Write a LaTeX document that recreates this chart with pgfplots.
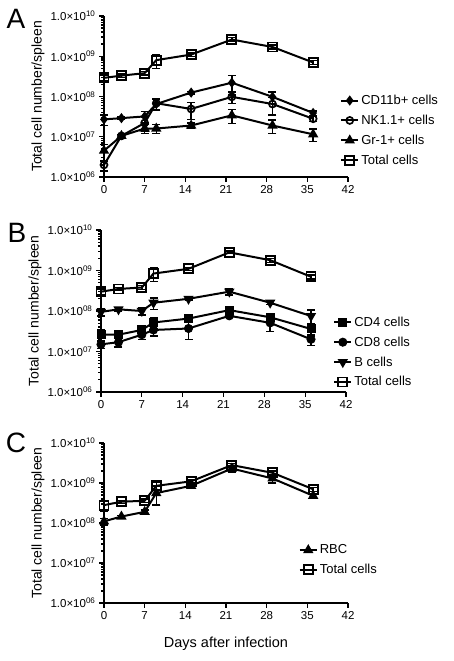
\documentclass[border=0pt]{standalone}
\usepackage{fontspec}
\setmainfont{Liberation Sans}
\usepackage{pgfplots}
\usepackage{pgfplotstable}
\pgfplotsset{compat=1.18}

% Panel A  (y = cells/spleen, e = SEM)
\pgfplotstableread{
x y e
0 2.9e8 5e7
3 3.3e8 3e7
7 3.8e8 4e7
9 8.0e8 3e8
15 1.1e9 1e8
22 2.6e9 3e8
29 1.7e9 2e8
36 7.0e8 8e7
}\totA
\pgfplotstableread{
x y e
0 2.7e7 8e6
3 2.9e7 2e6
7 3.2e7 1e7
9 6.5e7 2e7
15 1.25e8 1e7
22 2.2e8 1.1e8
29 9.8e7 3e7
36 3.9e7 5e6
}\cdA
\pgfplotstableread{
x y e
0 2.0e6 6e5
3 1.05e7 1e6
7 2.2e7 8e6
9 6.8e7 2e7
15 4.9e7 2.2e7
22 9.8e7 3e7
29 6.5e7 3e7
36 2.8e7 4e6
}\nkA
\pgfplotstableread{
x y e
0 4.5e6 2e6
3 1.05e7 1e6
7 1.6e7 4e6
9 1.6e7 4e6
15 1.9e7 3e6
22 3.4e7 1.3e7
29 1.9e7 7e6
36 1.15e7 4e6
}\grA
% Panel B
\pgfplotstableread{
x y e
0 3.0e8 5e7
3 3.5e8 3e7
7 3.8e8 4e7
9 8.4e8 3e8
15 1.1e9 1e8
22 2.8e9 2e8
29 1.8e9 2e8
36 7.0e8 8e7
}\totB
\pgfplotstableread{
x y e
0 2.6e7 8e6
3 2.6e7 5e6
7 3.4e7 8e6
9 5.2e7 1.5e7
15 6.5e7 1e7
22 1.05e8 1.5e7
29 7.0e7 1.2e7
36 3.6e7 1.2e7
}\cdfB
\pgfplotstableread{
x y e
0 1.5e7 3e6
3 1.7e7 4e6
7 2.6e7 6e6
9 3.4e7 1e7
15 3.7e7 1.7e7
22 7.6e7 8e6
29 5.1e7 2e7
36 2.0e7 6e6
}\cdeB
\pgfplotstableread{
x y e
0 9.5e7 2e7
3 1.1e8 1e7
7 1.0e8 2e7
9 1.6e8 5e7
15 2.0e8 1.5e7
22 3.0e8 5e7
29 1.6e8 1.5e7
36 7.5e7 3e7
}\bB
% Panel C
\pgfplotstableread{
x y e
0 2.8e8 8e7
3 3.4e8 3e7
7 3.6e8 4e7
9 8.5e8 2e8
15 1.1e9 1e8
22 2.8e9 3e8
29 1.8e9 2e8
36 7.0e8 8e7
}\totC
\pgfplotstableread{
x y e
0 1.1e8 2e7
3 1.45e8 1e7
7 1.9e8 2e7
9 5.6e8 2.8e8
15 8.5e8 1e8
22 2.3e9 4e8
29 1.3e9 3e8
36 4.8e8 5e7
}\rbcC

\pgfplotsset{
 every axis/.append style={
  scale only axis, anchor=south west,
  xmin=0, xmax=42, ymin=6, ymax=10,
  axis lines=left, axis line style={line width=1.9pt,-},
  xtick={0,7,...,42}, ytick={6,7,8,9,10},
  minor ytick={6.30103,6.47712,6.60206,6.69897,6.77815,6.84510,6.90309,6.95424,
               7.30103,7.47712,7.60206,7.69897,7.77815,7.84510,7.90309,7.95424,
               8.30103,8.47712,8.60206,8.69897,8.77815,8.84510,8.90309,8.95424,
               9.30103,9.47712,9.60206,9.69897,9.77815,9.84510,9.90309,9.95424},
  yticklabels={1.0×10\textsuperscript{06},1.0×10\textsuperscript{07},1.0×10\textsuperscript{08},1.0×10\textsuperscript{09},1.0×10\textsuperscript{10}},
  /pgf/number format/assume math mode=true,
  tick align=outside, major tick length=5pt, minor tick length=3pt,
  every tick/.style={black, line width=1.3pt},
  tick label style={font=\fontsize{11.5}{11.5}\selectfont},
  ylabel={Total cell number/spleen},
  ylabel style={font=\fontsize{14}{14}\selectfont, yshift=-1pt},
  legend style={draw=none, fill=none, font=\fontsize{13}{13}\selectfont, row sep=5pt, anchor=north west},
  legend cell align=left,
  clip=false,
 },
 myser/.style={black, line width=2pt,
   /pgfplots/error bars/y dir=both, /pgfplots/error bars/y explicit,
   /pgfplots/error bars/error bar style={line width=1.4pt, black},
   /pgfplots/error bars/error mark options={black, line width=1.4pt, mark size=4pt, rotate=90}},
 mytot/.style={myser, mark=square, mark size=4.5pt, mark options={fill=white, solid, line width=1.9pt}},
}

\begin{document}
\begin{tikzpicture}
\path[use as bounding box] (0pt,0pt) rectangle (454pt,661pt);
\node[font=\fontsize{28}{28}\selectfont] at (16pt,642pt) {A};
\node[font=\fontsize{28}{28}\selectfont] at (17pt,428pt) {B};
\node[font=\fontsize{28}{28}\selectfont] at (16pt,218pt) {C};

\begin{axis}[at={(104pt,484pt)}, width=244pt, height=161pt,
  legend style={at={(0.955,0.535)}}]
\addplot[myser, mark=diamond*, mark size=3.5pt] table[x=x, y expr={log10(\thisrow{y})}, y error plus expr={log10(\thisrow{y}+\thisrow{e})-log10(\thisrow{y})}, y error minus expr={log10(\thisrow{y})-log10(\thisrow{y}-\thisrow{e})}] \cdA;
\addlegendentry{CD11b+ cells}
\addplot[myser, mark=o, mark size=3.5pt, mark options={fill=white, line width=1.7pt}] table[x=x, y expr={log10(\thisrow{y})}, y error plus expr={log10(\thisrow{y}+\thisrow{e})-log10(\thisrow{y})}, y error minus expr={log10(\thisrow{y})-log10(\thisrow{y}-\thisrow{e})}] \nkA;
\addlegendentry{NK1.1+ cells}
\addplot[myser, mark=triangle*, mark size=4pt] table[x=x, y expr={log10(\thisrow{y})}, y error plus expr={log10(\thisrow{y}+\thisrow{e})-log10(\thisrow{y})}, y error minus expr={log10(\thisrow{y})-log10(\thisrow{y}-\thisrow{e})}] \grA;
\addlegendentry{Gr-1+ cells}
\addplot[mytot] table[x=x, y expr={log10(\thisrow{y})}, y error plus expr={log10(\thisrow{y}+\thisrow{e})-log10(\thisrow{y})}, y error minus expr={log10(\thisrow{y})-log10(\thisrow{y}-\thisrow{e})}] \totA;
\addlegendentry{Total cells}
\end{axis}

\begin{axis}[at={(101pt,269pt)}, width=245pt, height=162pt,
  legend style={at={(0.935,0.49)}}]
\addplot[myser, mark=square*, mark size=3.5pt] table[x=x, y expr={log10(\thisrow{y})}, y error plus expr={log10(\thisrow{y}+\thisrow{e})-log10(\thisrow{y})}, y error minus expr={log10(\thisrow{y})-log10(\thisrow{y}-\thisrow{e})}] \cdfB;
\addlegendentry{CD4 cells}
\addplot[myser, mark=*, mark size=3.5pt] table[x=x, y expr={log10(\thisrow{y})}, y error plus expr={log10(\thisrow{y}+\thisrow{e})-log10(\thisrow{y})}, y error minus expr={log10(\thisrow{y})-log10(\thisrow{y}-\thisrow{e})}] \cdeB;
\addlegendentry{CD8 cells}
\addplot[myser, mark=triangle*, mark size=4pt, mark options={rotate=180}] table[x=x, y expr={log10(\thisrow{y})}, y error plus expr={log10(\thisrow{y}+\thisrow{e})-log10(\thisrow{y})}, y error minus expr={log10(\thisrow{y})-log10(\thisrow{y}-\thisrow{e})}] \bB;
\addlegendentry{B cells}
\addplot[mytot] table[x=x, y expr={log10(\thisrow{y})}, y error plus expr={log10(\thisrow{y}+\thisrow{e})-log10(\thisrow{y})}, y error minus expr={log10(\thisrow{y})-log10(\thisrow{y}-\thisrow{e})}] \totB;
\addlegendentry{Total cells}
\end{axis}

\begin{axis}[at={(104pt,58pt)}, width=244pt, height=160pt,
  legend style={at={(0.785,0.39)}},
  xlabel={Days after infection}, xlabel style={font=\fontsize{14.5}{14.5}\selectfont, yshift=-10pt}]
\addplot[myser, mark=triangle*, mark size=4pt] table[x=x, y expr={log10(\thisrow{y})}, y error plus expr={log10(\thisrow{y}+\thisrow{e})-log10(\thisrow{y})}, y error minus expr={log10(\thisrow{y})-log10(\thisrow{y}-\thisrow{e})}] \rbcC;
\addlegendentry{RBC}
\addplot[mytot] table[x=x, y expr={log10(\thisrow{y})}, y error plus expr={log10(\thisrow{y}+\thisrow{e})-log10(\thisrow{y})}, y error minus expr={log10(\thisrow{y})-log10(\thisrow{y}-\thisrow{e})}] \totC;
\addlegendentry{Total cells}
\end{axis}
\end{tikzpicture}
\end{document}
